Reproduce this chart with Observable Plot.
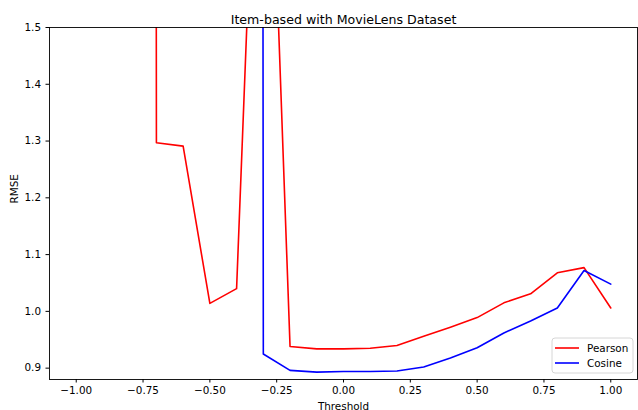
<!DOCTYPE html>
<html><head><meta charset="utf-8">
<script src="https://cdn.jsdelivr.net/npm/d3@7"></script>
<script src="https://cdn.jsdelivr.net/npm/@observablehq/plot@0.6"></script>
<style>
body{margin:0;background:#fff;font-family:"DejaVu Sans",sans-serif}
#chart{position:relative;width:638px;height:410px}
</style>
</head><body><div id="chart"></div>
<script>
const titleText = "Item-based with MovieLens Dataset";
const xLabel = "Threshold";
const yLabel = "RMSE";
const thresholds = [-1.0,-0.9,-0.8,-0.7,-0.6,-0.5,-0.4,-0.3,-0.2,-0.1,0.0,0.1,0.2,0.3,0.4,0.5,0.6,0.7,0.8,0.9,1.0];
// values above 1.5 are off the visible chart (clipped)
const pearson = [50,50,50,1.297,1.291,1.014,1.040,2.25,0.938,0.934,0.934,0.935,0.940,0.956,0.972,0.989,1.015,1.031,1.068,1.077,1.006];
const cosine  = [50,50,50,50,50,50,50,0.925,0.896,0.893,0.894,0.894,0.895,0.902,0.918,0.936,0.962,0.983,1.006,1.072,1.048];
const seriesNames = ["Pearson","Cosine"];
const seriesColors = ["#ff0000","#0000ff"];
const xTicks = [-1.0,-0.75,-0.5,-0.25,0,0.25,0.5,0.75,1.0];
const yTicks = [0.9,1.0,1.1,1.2,1.3,1.4,1.5];

const seriesValues = [pearson, cosine];
const rows = seriesNames.flatMap((name, si) =>
  thresholds.map((t, i) => ({series: name, x: t, y: seriesValues[si][i]})));

const chart = Plot.plot({
  width: 638, height: 410,
  marginLeft: 49, marginRight: 1, marginTop: 27, marginBottom: 31,
  style: {fontFamily: "DejaVu Sans", fontSize: "10.4px", color: "#000", background: "#fff"},
  x: {domain: [-1.1, 1.1]},
  y: {domain: [0.88, 1.5]},
  color: {domain: seriesNames, range: seriesColors},
  marks: [
    Plot.line(rows, {x: "x", y: "y", z: "series", stroke: "series", strokeWidth: 1.6, clip: true}),
    Plot.axisX({ticks: xTicks, tickFormat: d3.format(".2f"), tickSize: 3.5, tickPadding: 4, label: null, fontSize: 10.4, stroke: "#000"}),
    Plot.axisY({ticks: yTicks, tickFormat: d3.format(".1f"), tickSize: 3.5, tickPadding: 5, label: null, fontSize: 10.4, stroke: "#000"}),
    Plot.frame({stroke: "#000", strokeWidth: 0.9}),
    Plot.text([titleText], {text: d => d, frameAnchor: "top", lineAnchor: "bottom", dy: -4, fontSize: 12.6, fill: "#000"}),
    Plot.text([xLabel], {text: d => d, frameAnchor: "bottom", lineAnchor: "bottom", dy: 30, fontSize: 10.4, fill: "#000"}),
    Plot.text([yLabel], {text: d => d, frameAnchor: "left", rotate: -90, dx: -35, fontSize: 10.4, fill: "#000"})
  ]
});
document.getElementById("chart").appendChild(chart);

// legend (matplotlib-style box, lower right)
const svg = d3.select(chart);
const lg = svg.append("g").attr("transform", "translate(552,338)").attr("text-anchor", "start");
lg.append("rect").attr("width", 81).attr("height", 35).attr("rx", 3)
  .attr("fill", "#fff").attr("fill-opacity", 0.8).attr("stroke", "#ccc").attr("stroke-width", 0.8);
seriesNames.forEach((name, i) => {
  const y = 10 + i * 15;
  lg.append("line").attr("x1", 3).attr("x2", 27).attr("y1", y).attr("y2", y)
    .attr("stroke", seriesColors[i]).attr("stroke-width", 1.6);
  lg.append("text").attr("x", 35).attr("y", y).attr("dy", "0.35em")
    .attr("text-anchor", "start")
    .attr("font-size", 10.4).attr("fill", "#000").text(name);
});
</script>
</body></html>
